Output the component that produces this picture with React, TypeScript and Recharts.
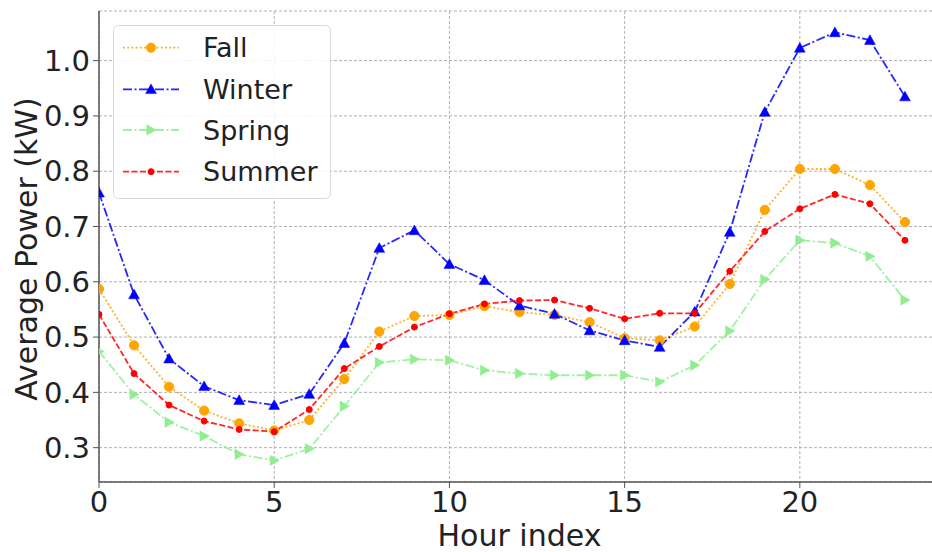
import React from 'react';
import { LineChart, Line, XAxis, YAxis, CartesianGrid, Legend } from 'recharts';

const hours = [0, 1, 2, 3, 4, 5, 6, 7, 8, 9, 10, 11, 12, 13, 14, 15, 16, 17, 18, 19, 20, 21, 22, 23];
const fall = [0.587, 0.485, 0.410, 0.367, 0.344, 0.331, 0.350, 0.424, 0.510, 0.538, 0.540, 0.556, 0.545, 0.540, 0.527, 0.498, 0.494, 0.519, 0.596, 0.730, 0.804, 0.804, 0.775, 0.708];
const winter = [0.761, 0.577, 0.461, 0.411, 0.386, 0.377, 0.397, 0.489, 0.661, 0.693, 0.632, 0.603, 0.557, 0.542, 0.512, 0.494, 0.482, 0.546, 0.690, 0.907, 1.023, 1.051, 1.037, 0.935];
const spring = [0.474, 0.396, 0.346, 0.321, 0.288, 0.277, 0.298, 0.375, 0.454, 0.460, 0.458, 0.440, 0.434, 0.431, 0.431, 0.431, 0.419, 0.449, 0.511, 0.604, 0.675, 0.670, 0.646, 0.567];
const summer = [0.541, 0.434, 0.377, 0.348, 0.333, 0.329, 0.369, 0.443, 0.483, 0.518, 0.542, 0.560, 0.566, 0.567, 0.552, 0.533, 0.543, 0.543, 0.619, 0.691, 0.732, 0.758, 0.741, 0.675];
const xTicks = [0, 5, 10, 15, 20];
const yTicks = [0.3, 0.4, 0.5, 0.6, 0.7, 0.8, 0.9, 1.0];

const data = hours.map((h, i) => ({ hour: h, Fall: fall[i], Winter: winter[i], Spring: spring[i], Summer: summer[i] }));

const FONT = '"DejaVu Sans", sans-serif';
const AX = '#555';

type Kind = 'circle' | 'up' | 'right' | 'point';

const series: { key: string; color: string; dash: string; kind: Kind }[] = [
  { key: 'Fall', color: '#FFA500', dash: '2 2.2', kind: 'circle' },
  { key: 'Winter', color: '#0000FF', dash: '9 2.5 2 2.5', kind: 'up' },
  { key: 'Spring', color: '#90EE90', dash: '9 2.5 2 2.5', kind: 'right' },
  { key: 'Summer', color: '#FF0000', dash: '6 2.5', kind: 'point' },
];

function Marker({ cx, cy, kind, color }: { cx: number; cy: number; kind: Kind; color: string }) {
  if (cx == null || cy == null || isNaN(cx) || isNaN(cy)) return null;
  if (kind === 'circle') return <circle cx={cx} cy={cy} r={4.6} fill={color} stroke={color} />;
  if (kind === 'point') return <circle cx={cx} cy={cy} r={3} fill={color} stroke={color} />;
  if (kind === 'up') {
    const s = 5.4;
    return <polygon points={`${cx},${cy - s} ${cx - s},${cy + s * 0.8} ${cx + s},${cy + s * 0.8}`} fill={color} stroke={color} strokeWidth={0.5} />;
  }
  const s = 5.2;
  return <polygon points={`${cx + s},${cy} ${cx - s * 0.8},${cy - s} ${cx - s * 0.8},${cy + s}`} fill={color} stroke={color} strokeWidth={0.5} />;
}

function LegendBox() {
  const rowY = [22.7, 64.3, 105, 146.7];
  return (
    <svg width={218} height={174} style={{ display: 'block', overflow: 'visible' }}>
      <rect x={0.5} y={0.5} width={217} height={173} rx={5} ry={5} fill="#ffffff" fillOpacity={0.85} stroke="#d8d8d8" strokeWidth={1} />
      {series.map((s, i) => (
        <g key={s.key}>
          <line x1={10} x2={66} y1={rowY[i]} y2={rowY[i]} stroke={s.color} strokeWidth={1.8} strokeDasharray={s.dash} strokeOpacity={0.85} />
          <Marker cx={38} cy={rowY[i]} kind={s.kind} color={s.color} />
          <text x={90} y={rowY[i]} dy="0.36em" fontSize={27} fontFamily={FONT} fill="#222">{s.key}</text>
        </g>
      ))}
    </svg>
  );
}

export default function App() {
  return (
    <div style={{ position: 'absolute', left: 0, top: 0, width: 932, height: 552, overflow: 'hidden', background: '#fff' }}>
      <LineChart width={960} height={552} data={data} margin={{ top: 11, right: 20, left: 0, bottom: 0 }}>
        <CartesianGrid stroke="#b0b0b0" strokeDasharray="3 2" strokeWidth={1} />
        <XAxis
          dataKey="hour"
          type="number"
          domain={[0, 24]}
          ticks={xTicks}
          allowDataOverflow
          height={70}
          tickSize={6}
          tickMargin={3}
          stroke={AX}
          axisLine={{ stroke: AX, strokeWidth: 1.5 }}
          tickLine={{ stroke: AX }}
          tick={{ fontSize: 29, fontFamily: FONT, fill: '#222' }}
          label={{
            content: (p: any) => {
              const vb = p.viewBox || {};
              return (
                <text x={vb.x + vb.width / 2} y={546} textAnchor="middle" fontSize={30} fontFamily={FONT} fill="#222">
                  Hour index
                </text>
              );
            },
          }}
        />
        <XAxis xAxisId="top" orientation="top" dataKey="hour" type="number" domain={[0, 24]} height={0} tick={false} tickLine={false} axisLine={{ stroke: AX, strokeWidth: 1.5 }} />
        <YAxis
          type="number"
          domain={[0.2379, 1.0897]}
          ticks={yTicks}
          allowDataOverflow
          width={99}
          tickSize={6}
          tickMargin={3}
          tickFormatter={(v: number) => v.toFixed(1)}
          axisLine={{ stroke: AX, strokeWidth: 1.5 }}
          tickLine={{ stroke: AX }}
          tick={{ fontSize: 29, fontFamily: FONT, fill: '#222' }}
          label={{
            content: (p: any) => {
              const vb = p.viewBox || {};
              const cy = vb.y + vb.height / 2 + 2.5;
              return (
                <text x={36.5} y={cy} transform={`rotate(-90 36.5 ${cy})`} textAnchor="middle" fontSize={30} fontFamily={FONT} fill="#222">
                  Average Power (kW)
                </text>
              );
            },
          }}
        />
        {series.map((s) => (
          <Line
            key={s.key}
            dataKey={s.key}
            stroke={s.color}
            strokeWidth={1.8}
            strokeOpacity={0.85}
            strokeDasharray={s.dash}
            isAnimationActive={false}
            type="linear"
            activeDot={false}
            dot={(p: any) => <Marker key={`${s.key}-${p.index}`} cx={p.cx} cy={p.cy} kind={s.kind} color={s.color} />}
          />
        ))}
        <Legend
          layout="vertical"
          align="center"
          verticalAlign="middle"
          wrapperStyle={{ position: 'absolute', left: 113, top: 25, width: 218, height: 174, margin: 0 }}
          content={() => <LegendBox />}
        />
      </LineChart>
    </div>
  );
}
